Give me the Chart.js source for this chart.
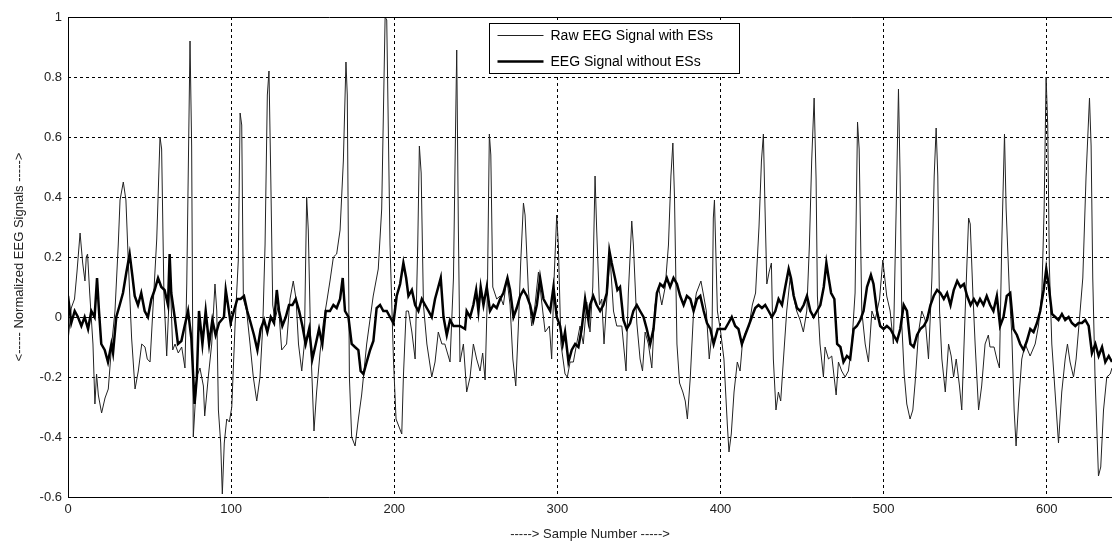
<!DOCTYPE html>
<html>
<head>
<meta charset="utf-8">
<script src="https://cdn.jsdelivr.net/npm/chart.js@4.4.0/dist/chart.umd.min.js"></script>
<style>
body{margin:0;background:#fff}
#wrap{width:1112px;height:547px}
</style>
</head>
<body>
<div id="wrap"><canvas id="eeg"></canvas></div>
<script>
// [sample number, normalized value]
const rawSignal = [
 [0,-0.08],[2,0.03],[4,0.06],[5.5,0.15],[7.4,0.28],[9,0.18],[10.4,0.12],[11.2,0.2],[12,0.21],[13.3,0.08],
 [15.3,-0.09],[16.5,-0.29],[17.5,-0.19],[18.6,-0.26],[20.6,-0.32],[22.7,-0.27],[24.7,-0.24],[26.8,-0.09],[28.8,0.02],[30.8,0.24],
 [31.9,0.39],[33.9,0.45],[35.5,0.39],[37,0.18],[39,-0.07],[41.1,-0.24],[43.1,-0.18],[45.2,-0.09],[47.2,-0.1],[48.6,-0.14],
 [50.3,-0.15],[52,0.02],[54.4,0.26],[56.4,0.6],[57.4,0.56],[58.8,0.08],[60.5,-0.13],[62.6,0.14],[64.2,-0.11],[65.6,-0.09],
 [67.6,-0.12],[69.7,-0.1],[71.7,-0.17],[72.8,0.11],[74.8,0.92],[75.8,0.57],[76.8,-0.4],[78.9,-0.2],[80.9,-0.17],[83,-0.23],
 [83.8,-0.33],[86,-0.2],[88.1,-0.09],[90.1,0.11],[91.2,0.02],[92.2,-0.31],[93.6,-0.42],[94.6,-0.59],[95.8,-0.42],[97.3,-0.34],
 [98.9,-0.35],[100.4,-0.3],[102.4,-0.03],[104.4,0.19],[105.5,0.68],[106.5,0.64],[107.5,0.06],[109.5,0.02],[111.6,-0.09],[113.6,-0.2],
 [115.7,-0.28],[117.7,-0.2],[119.4,-0.03],[120.8,0.24],[122.2,0.74],[123.2,0.82],[124.3,0.47],[125.5,0.04],[126.9,-0.01],[129,0.04],
 [131,-0.11],[134,-0.09],[136.1,0.06],[138.1,0.12],[139.8,0.06],[141.3,-0.09],[143.3,-0.18],[144.9,-0.09],[146.3,0.4],[147.3,0.29],
 [148.8,-0.09],[150.8,-0.38],[152.4,-0.25],[154.5,-0.12],[156.5,-0.02],[158.6,0.05],[160.6,0.12],[162.7,0.2],[164.7,0.21],[166.8,0.29],
 [168.8,0.52],[170.4,0.85],[171.2,0.74],[172.5,-0.2],[173.9,-0.4],[176,-0.43],[178,-0.34],[180,-0.26],[183.1,-0.09],[187.1,0.07],
 [190.2,0.16],[192.3,0.36],[194.4,1.0],[195.4,0.99],[197.4,0.24],[199.5,-0.14],[201.1,-0.34],[204.6,-0.39],[205.6,-0.2],[207.3,0.02],
 [208.7,0.02],[210.8,-0.05],[212.8,-0.14],[214.4,0.24],[215.4,0.57],[216.5,0.48],[217.9,0.04],[220,-0.09],[223,-0.2],[225,-0.15],
 [227,-0.05],[229.2,-0.09],[231,-0.09],[234.2,-0.15],[236.3,0.13],[237.5,0.6],[238.3,0.89],[239.3,0.3],[240.3,-0.15],[242.4,-0.09],
 [244.4,-0.25],[246.5,-0.2],[248.5,-0.09],[250.5,-0.14],[252.6,-0.18],[254.2,-0.12],[255.7,-0.21],[257.1,0.08],[258.3,0.61],[259.2,0.54],
 [260.4,0.1],[262.8,0.06],[264.9,0.07],[266.9,0.04],[269,0.13],[271,0.04],[272.7,-0.14],[274.5,-0.23],[276.1,-0.03],[277.5,0.18],
 [279.2,0.38],[280.2,0.34],[282.2,0.09],[284.3,-0.03],[286.3,0.04],[288.4,0.15],[290.4,0.05],[292.5,-0.05],[295.1,-0.03],[296.5,-0.14],
 [298,0.13],[299.6,0.34],[300.6,0.24],[302.2,-0.09],[304.7,-0.19],[306.1,-0.2],[307.8,-0.15],[309.8,-0.15],[311.8,-0.09],[313.9,-0.03],
 [315.9,-0.09],[318,0.05],[320,-0.05],[321.7,0.1],[323.1,0.47],[324.1,0.29],[325.8,0.04],[327.2,0.06],[328.6,-0.09],[330.3,0.06],
 [332.3,0.2],[334.4,0.02],[336.4,-0.03],[339.5,-0.03],[342.1,-0.18],[343.5,0.08],[345.6,0.32],[346.6,0.24],[348.7,-0.02],[350.7,-0.14],
 [352.2,-0.18],[353.8,-0.05],[355.8,-0.09],[357.9,-0.17],[359.9,0.04],[362,0.1],[364,0.04],[366.1,0.1],[368.1,0.24],[369.6,0.47],
 [370.8,0.58],[371.8,0.4],[373.3,-0.09],[374.9,-0.22],[376.9,-0.25],[378.4,-0.28],[379.7,-0.34],[381.5,-0.2],[383.5,0.02],[385.2,0.08],
 [386.6,0.1],[388,0.12],[389.7,0.07],[391.3,0.02],[393.1,-0.14],[394.8,-0.05],[395.6,0.33],[396.3,0.39],[398.1,0.02],[400.1,-0.05],
 [402.1,-0.14],[404.2,-0.36],[405.2,-0.45],[406.6,-0.39],[408.3,-0.25],[410.3,-0.15],[412,-0.18],[413.4,-0.09],[415.4,-0.05],[417.5,-0.03],
 [419.5,0.04],[421.5,0.08],[423.6,0.3],[425.1,0.52],[426.3,0.61],[427.3,0.36],[428.4,0.11],[429.8,0.15],[431.2,0.18],[432.4,-0.14],
 [434,-0.31],[435.5,-0.25],[436.9,-0.28],[438.6,-0.14],[440.6,0.02],[442.7,0.13],[444.7,0.07],[446.7,0.02],[448.8,-0.01],[450.8,-0.05],
 [452.9,0.02],[454.5,0.24],[455.9,0.52],[457.4,0.73],[458.6,0.46],[459.4,0.07],[461,-0.09],[463.1,-0.2],[464.1,-0.1],[466.2,-0.14],
 [468.2,-0.13],[470.9,-0.26],[472.3,-0.15],[474.3,-0.18],[476.4,-0.2],[478.4,-0.18],[480.5,-0.09],[482.5,0.08],[484,0.65],[485,0.56],
 [486.6,0.02],[488.7,-0.09],[490.7,-0.15],[492.8,0.02],[494.8,-0.01],[497.5,0.06],[499.5,0.19],[501.9,0.07],[504,0.02],[506,-0.09],
 [507.7,0.36],[509.1,0.76],[510.1,0.47],[511.2,-0.03],[512.6,-0.19],[514.2,-0.29],[516.2,-0.34],[517.9,-0.31],[519.3,-0.22],[521.4,-0.05],
 [523.4,0.02],[525.5,-0.01],[527.5,-0.14],[529.6,0.13],[531,0.47],[532.2,0.63],[533.2,0.47],[534.3,0.02],[535.7,-0.14],[537.8,-0.25],
 [539.8,-0.09],[541.4,-0.13],[542.9,-0.2],[544.5,-0.14],[546.5,-0.23],[547.9,-0.31],[550,0.02],[552.1,0.33],[553.1,0.31],[554.7,0.08],
 [556.1,-0.09],[558.2,-0.31],[560.1,-0.23],[562.2,-0.09],[564.2,-0.06],[565.2,-0.1],[567.7,-0.1],[569.4,-0.14],[571,-0.17],[572.4,0.24],
 [574.1,0.61],[575.1,0.36],[577.2,0.07],[578.6,-0.06],[580,-0.31],[581.2,-0.43],[582.7,-0.29],[584.7,-0.14],[586.8,-0.09],[589.8,-0.13],
 [592.9,-0.09],[594.9,-0.03],[597,0.08],[598.4,0.36],[599.6,0.8],[600.6,0.64],[601.6,0.17],[603.1,-0.09],[605.1,-0.25],[607.2,-0.42],
 [609.2,-0.25],[611.3,-0.14],[612.7,-0.09],[614.3,-0.15],[616.4,-0.2],[618,-0.14],[620,-0.01],[622.1,0.13],[624.1,0.47],[626.2,0.73],
 [627.2,0.57],[628.2,0.13],[629.6,-0.2],[631.7,-0.53],[633.1,-0.5],[634.8,-0.31],[636.8,-0.2],[638.9,-0.19],[640,-0.17]
];

const cleanSignal = [
 [0,0.07],[2,-0.02],[4.1,0.02],[6.1,0],[8.2,-0.03],[10.2,0],[12.3,-0.04],[14.3,0.02],[16.3,0],[17.8,0.13],
 [19,0.02],[20.4,-0.09],[22.5,-0.11],[24.5,-0.15],[26.6,-0.09],[27.6,-0.12],[29.6,0],[31.7,0.04],[33.7,0.08],[35.8,0.15],
 [37.8,0.21],[39.4,0.14],[40.9,0.07],[42.9,0.04],[44.9,0.08],[47,0.02],[49,0],[51.1,0.06],[53.1,0.09],[55.2,0.13],
 [57.2,0.1],[59.2,0.09],[61.3,0.04],[62.3,0.21],[63.3,0.08],[65.4,0],[67.4,-0.09],[69.5,-0.08],[71.5,-0.03],[73.6,0.02],
 [75.6,-0.07],[77.6,-0.29],[79,-0.2],[80.3,0.02],[82.4,-0.09],[84.4,0.02],[86.5,-0.09],[88.5,-0.01],[90.5,-0.06],[92.6,-0.02],
 [95.6,0],[96.7,0.09],[98.1,0.04],[99.7,-0.02],[101.7,0.02],[103.8,0.06],[105.8,0.06],[107.9,0.07],[109.9,0.02],[112,-0.02],
 [114,-0.06],[116.1,-0.11],[118.1,-0.04],[120.2,-0.01],[122.2,-0.05],[124.3,0],[126.3,-0.02],[128,0.09],[129.4,0.02],[131.4,-0.03],
 [133.5,0],[135.5,0.04],[137.6,0.04],[139.6,0.06],[141.7,0.02],[143.7,-0.03],[145.7,-0.09],[147.8,-0.04],[149.8,-0.14],[151.9,-0.09],
 [153.9,-0.04],[155.9,-0.09],[158,0.02],[160.6,0.02],[162.7,0.04],[164.7,0.03],[166.8,0.06],[168.4,0.13],[169.8,0.02],[171.9,0],
 [173.9,-0.09],[175.9,-0.1],[178,-0.11],[179.4,-0.18],[181.1,-0.19],[183.1,-0.15],[185.2,-0.11],[187.2,-0.08],[189.2,0.03],[191.3,0.04],
 [193.3,0.02],[195.4,0.02],[197.4,0],[199.5,-0.02],[201.5,0.07],[203.6,0.11],[205.6,0.18],[207.3,0.13],[208.7,0.07],[210.8,0.09],
 [212.8,0.04],[214.8,0.02],[216.9,0.06],[218.9,0.04],[221,0.02],[223,0],[225,0.06],[227,0.1],[228.5,0.13],[230.2,0],
 [232.2,-0.06],[234.2,-0.01],[236.3,-0.03],[238.3,-0.03],[240.3,-0.03],[243.4,-0.04],[244.4,0.02],[246.5,0],[248.5,0.04],[250.2,0.09],
 [251.6,0.02],[253,0.1],[254.7,0.04],[256.7,0.1],[258.7,0.02],[260.8,0.04],[262.8,0.03],[264.9,0.06],[266.9,0.08],[269.4,0.13],
 [271,0.09],[273.1,0],[275.1,0.03],[277.2,0.07],[279.2,0.09],[281.3,0.07],[283.3,0.04],[285.3,-0.01],[287.4,0.04],[289.4,0.13],
 [291.5,0.06],[293.5,0.04],[295.6,0.02],[297.6,0.1],[299.6,0],[301.7,-0.03],[303.3,-0.09],[304.7,-0.05],[306.8,-0.15],[308.8,-0.11],
 [310.9,-0.09],[312.9,-0.1],[314.9,-0.04],[317,0.06],[319,-0.01],[320,0.04],[322,0.07],[324.1,0.04],[326.2,0.02],[328.2,0.04],
 [330.3,0.08],[331.9,0.22],[333.3,0.18],[335.3,0.13],[336.8,0.09],[338.4,0.1],[340.5,-0.01],[342.5,-0.04],[344.6,-0.02],[346.6,0.02],
 [348.7,0.04],[350.7,0.02],[352.8,0],[354.8,-0.04],[356.9,-0.09],[358.9,-0.04],[361,0.08],[363,0.11],[365.1,0.1],[367.1,0.13],
 [369.1,0.1],[371.2,0.13],[373.3,0.11],[375.3,0.07],[377.4,0.04],[379.4,0.07],[381.5,0.06],[383.5,0.02],[385.6,0.06],[387.6,0.07],
 [389.7,0.02],[391.7,-0.02],[393.8,-0.04],[395.8,-0.09],[398.3,-0.04],[400.8,-0.04],[402.8,-0.04],[404.9,-0.02],[406.9,0],[409,-0.03],
 [411,-0.04],[413.1,-0.09],[415.1,-0.06],[417.2,-0.03],[419.2,0],[421.3,0.03],[423.3,0.04],[425.4,0.03],[427.4,0.04],[429.5,0.02],
 [431.5,0],[433.6,0.02],[435.6,0.06],[437.7,0.04],[439.7,0.1],[441.8,0.16],[443.2,0.13],[444.9,0.07],[446.9,0.03],[448.9,0.02],
 [451,0.04],[453,0.07],[455.1,0.02],[457.1,0],[459.2,0.02],[461.2,0.04],[463.3,0.1],[464.9,0.18],[466.3,0.13],[467.8,0.08],
 [469.8,0.06],[471.5,-0.09],[473.5,-0.1],[475.4,-0.15],[477.5,-0.13],[479.5,-0.14],[481.6,-0.04],[483.6,-0.03],[485.7,-0.01],[487.7,0.02],
 [489.8,0.1],[492.2,0.14],[493.8,0.11],[495.9,0.02],[497.9,-0.03],[500,-0.04],[502,-0.03],[504.1,-0.04],[506.1,-0.06],[508.2,-0.08],
 [510.2,-0.04],[512.3,0.04],[514.3,0.02],[516.4,-0.09],[518.4,-0.1],[520.5,-0.06],[522.5,-0.04],[524.6,-0.03],[526.6,-0.01],[528.7,0.04],
 [530.7,0.07],[532.8,0.09],[534.8,0.08],[536.9,0.06],[538.9,0.08],[541,0.04],[543,0.09],[545.1,0.12],[547.1,0.1],[549.2,0.11],
 [551.2,0.07],[553.3,0.04],[555.3,0.06],[557.4,0.04],[559.1,0.06],[561.2,0.04],[563.2,0.07],[565.3,0.04],[567.3,0.02],[569.4,0.07],
 [571.4,-0.03],[573.5,0],[575.5,0.07],[577.6,0.08],[579.6,-0.04],[581.7,-0.06],[583.7,-0.09],[585.8,-0.11],[587.8,-0.08],[589.9,-0.04],
 [591.9,-0.05],[594,-0.02],[596,0.02],[598.1,0.09],[599.7,0.16],[601.1,0.11],[603.2,0.01],[605.2,0],[607.2,-0.01],[609.3,0.01],
 [611.3,-0.01],[613.4,0],[615.4,-0.02],[617.5,-0.03],[619.5,-0.02],[621.6,-0.02],[623.6,-0.01],[625.7,-0.03],[627.7,-0.12],[629.8,-0.09],
 [631.8,-0.13],[633.9,-0.1],[635.9,-0.15],[638,-0.13],[640,-0.15]
];

const seriesNames = ['Raw EEG Signal with ESs', 'EEG Signal without ESs'];
const xRange = [0, 640];
const yRange = [-0.6, 1];
const xStep = 100;
const yStep = 0.2;

const FONT = '"Liberation Sans", Arial, sans-serif';

function toPoints(list) {
    return list.map(p => ({x: p[0], y: p[1]}));
}

// MATLAB-style legend box inside the axes
const boxLegend = {
    id: 'boxLegend',
    afterDraw(chart) {
        const c = chart.ctx;
        const x = 489.5, y = 23.5, w = 250, h = 50;
        c.save();
        c.fillStyle = '#fff';
        c.fillRect(x, y, w, h);
        c.strokeStyle = '#000';
        c.lineWidth = 1;
        c.strokeRect(x, y, w, h);
        c.font = '14px ' + FONT;
        c.textBaseline = 'middle';
        chart.data.datasets.forEach((ds, i) => {
            const ly = y + 12 + i * 26;
            c.beginPath();
            c.strokeStyle = ds.borderColor;
            c.lineWidth = ds.borderWidth;
            c.moveTo(x + 8, ly);
            c.lineTo(x + 54, ly);
            c.stroke();
            c.fillStyle = '#000';
            c.fillText(ds.label, x + 61, ly + 1);
        });
        c.restore();
    }
};

// solid axes frame
const frame = {
    id: 'frame',
    afterDatasetsDraw(chart) {
        const a = chart.chartArea;
        const c = chart.ctx;
        c.save();
        c.strokeStyle = '#000';
        c.lineWidth = 1;
        c.beginPath();
        c.moveTo(a.right, Math.round(a.top) + 0.5);
        c.lineTo(Math.round(a.left) + 0.5, Math.round(a.top) + 0.5);
        c.lineTo(Math.round(a.left) + 0.5, Math.round(a.bottom) + 0.5);
        c.lineTo(a.right, Math.round(a.bottom) + 0.5);
        c.stroke();
        c.restore();
    }
};

new Chart(document.getElementById('eeg'), {
    type: 'line',
    data: {
        datasets: [{
            label: seriesNames[0],
            data: toPoints(rawSignal),
            borderColor: '#222',
            borderWidth: 1,
            pointRadius: 0,
            tension: 0,
            order: 1
        }, {
            label: seriesNames[1],
            data: toPoints(cleanSignal),
            borderColor: '#000',
            borderWidth: 2.5,
            pointRadius: 0,
            tension: 0,
            order: 0
        }]
    },
    options: {
        responsive: true,
        maintainAspectRatio: false,
        animation: false,
        layout: { padding: { top: 17, right: 0, left: 0, bottom: 0 } },
        plugins: { legend: { display: false }, tooltip: { enabled: false } },
        scales: {
            x: {
                type: 'linear',
                min: xRange[0],
                max: xRange[1],
                afterFit: s => { s.height = 50; },
                ticks: {
                    stepSize: xStep,
                    includeBounds: false,
                    padding: 5,
                    color: '#222',
                    font: { family: FONT, size: 13 }
                },
                grid: { color: '#000', lineWidth: 1, drawTicks: false },
                border: { display: false, dash: [3, 3] },
                title: {
                    display: true,
                    text: '-----> Sample Number ----->',
                    color: '#222',
                    font: { family: FONT, size: 13 },
                    padding: { top: 0, bottom: 5 }
                }
            },
            y: {
                min: yRange[0],
                max: yRange[1],
                afterFit: s => { s.width = 68; },
                ticks: {
                    stepSize: yStep,
                    padding: 6,
                    color: '#222',
                    font: { family: FONT, size: 13 },
                    callback: v => String(Number(v.toFixed(1)))
                },
                grid: { color: '#000', lineWidth: 1, drawTicks: false },
                border: { display: false, dash: [3, 3] },
                title: {
                    display: true,
                    text: '<----- Normalized EEG Signals ----->',
                    color: '#222',
                    font: { family: FONT, size: 13 },
                    padding: { top: 12, bottom: 0 }
                }
            }
        }
    },
    plugins: [frame, boxLegend]
});
</script>
</body>
</html>
